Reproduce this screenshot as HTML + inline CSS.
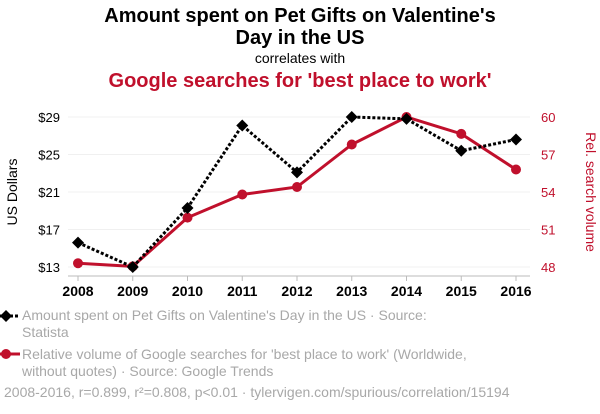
<!DOCTYPE html>
<html><head><meta charset="utf-8"><style>
body{margin:0;background:#fff;width:600px;height:414px;overflow:hidden;font-family:"Liberation Sans",sans-serif}
.t{position:absolute;left:0;width:600px;text-align:center}
.leg{position:absolute;left:22px;color:#a8a8a8;font-size:14px;line-height:17px}
</style></head><body>
<div class="t" style="top:5px;font-size:20px;font-weight:bold;line-height:22px;color:#000">Amount spent on Pet Gifts on Valentine's<br>Day in the US</div>
<div class="t" style="top:50px;font-size:14px;color:#000">correlates with</div>
<div class="t" style="top:70px;font-size:20px;font-weight:bold;color:#c0102c">Google searches for 'best place to work'</div>
<svg id="c" width="600" height="414" style="position:absolute;left:0;top:0"></svg>
<div class="leg" style="top:307px">Amount spent on Pet Gifts on Valentine's Day in the US · Source:<br>Statista</div>
<div class="leg" style="top:346px">Relative volume of Google searches for 'best place to work' (Worldwide,<br>without quotes) · Source: Google Trends</div>
<div class="leg" style="top:384px;left:4px">2008-2016, r=0.899, r²=0.808, p&lt;0.01 · tylervigen.com/spurious/correlation/15194</div>
<script>
const years=[2008,2009,2010,2011,2012,2013,2014,2015,2016];
const dollars=[15.6,13.0,19.3,28.1,23.1,29.0,28.8,25.4,26.6];
const searches=[48.3,48.05,51.95,53.8,54.4,57.8,60.0,58.65,55.8];
const leftTicks=[13,17,21,25,29];
const rightTicks=[48,51,54,57,60];
const NS="http://www.w3.org/2000/svg",svg=document.getElementById('c');
const x=i=>78+(516-78)*(years[i]-2008)/8;
const yL=v=>267-(v-13)*150/16;
const yR=v=>267-(v-48)*150/12;
function mk(t,a,p){const e=document.createElementNS(NS,t);for(const k in a)e.setAttribute(k,a[k]);(p||svg).appendChild(e);return e;}
leftTicks.forEach(v=>{
 const g=mk('line',{x1:68,x2:530,y1:yL(v),y2:yL(v),stroke:'#f0f0f0'});
 
 const t=mk('text',{x:60,y:yL(v)+5,'text-anchor':'end','font-size':13,fill:'#000'});t.textContent='$'+v;
 
});
rightTicks.forEach(v=>{
 const t=mk('text',{x:541,y:yR(v)+5,'font-size':13,fill:'#c0102c'});t.textContent=v;
 
});
const ax=mk('line',{x1:68,x2:530,y1:276,y2:276,stroke:'#bbb'});

years.forEach((yv,i)=>{
 const tk=mk('line',{x1:x(i),x2:x(i),y1:276,y2:281,stroke:'#bbb'});
 
 const t=mk('text',{x:x(i),y:296,'text-anchor':'middle','font-size':14,'font-weight':'bold',fill:'#000'});t.textContent=yv;
 
});
let yt=mk('text',{transform:'translate(17,192) rotate(-90)','text-anchor':'middle','font-size':14,fill:'#000'});yt.textContent='US Dollars';

let yt2=mk('text',{transform:'translate(586,192) rotate(90)','text-anchor':'middle','font-size':14,fill:'#c0102c'});yt2.textContent='Rel. search volume';

const rl=mk('polyline',{points:searches.map((v,i)=>x(i)+','+yR(v)).join(' '),fill:'none',stroke:'#c0102c','stroke-width':3});

searches.forEach((v,i)=>{const c=mk('circle',{cx:x(i),cy:yR(v),r:5,fill:'#c0102c'});
 });
const bl=mk('polyline',{points:dollars.map((v,i)=>x(i)+','+yL(v)).join(' '),fill:'none',stroke:'#000','stroke-width':3,'stroke-dasharray':'3,2'});

dollars.forEach((v,i)=>{const cx=x(i),cy=yL(v);const d=mk('polygon',{points:`${cx},${cy-6} ${cx+6},${cy} ${cx},${cy+6} ${cx-6},${cy}`,fill:'#000'});
 });
const l1=mk('line',{x1:0,x2:20,y1:316,y2:316,stroke:'#000','stroke-width':3,'stroke-dasharray':'3,2'});

const l1d=mk('polygon',{points:'6,310 12,316 6,322 0,316',fill:'#000'});

const l2=mk('line',{x1:0,x2:20,y1:354,y2:354,stroke:'#c0102c','stroke-width':3});

const l2c=mk('circle',{cx:6,cy:354,r:5,fill:'#c0102c'});

</script>
</body></html>
